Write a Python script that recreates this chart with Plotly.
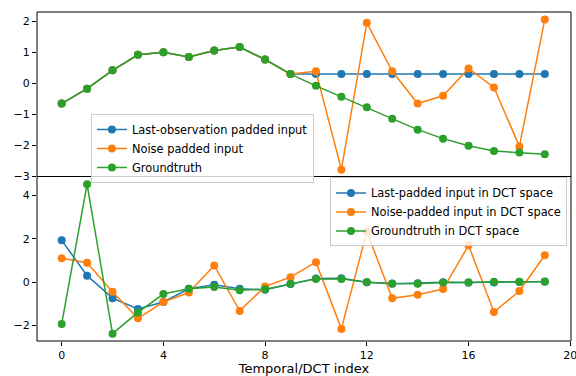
import plotly.graph_objects as go
from plotly.subplots import make_subplots

idx = list(range(20))

# Temporal domain
last_obs = [-0.65, -0.17, 0.42, 0.92, 1.00, 0.85, 1.06, 1.17, 0.77, 0.30,
            0.30, 0.30, 0.30, 0.30, 0.30, 0.30, 0.30, 0.30, 0.30, 0.30]
noise_pad = [-0.65, -0.17, 0.42, 0.92, 1.00, 0.85, 1.06, 1.17, 0.77, 0.30,
             0.39, -2.78, 1.95, 0.39, -0.65, -0.40, 0.48, -0.13, -2.03, 2.06]
ground = [-0.65, -0.17, 0.42, 0.92, 1.00, 0.85, 1.06, 1.17, 0.77, 0.30,
          -0.08, -0.43, -0.77, -1.14, -1.49, -1.78, -2.01, -2.18, -2.23, -2.28]

# DCT domain
last_dct = [1.93, 0.30, -0.74, -1.24, -0.92, -0.31, -0.12, -0.31, -0.35, -0.09,
            0.17, 0.18, 0.00, -0.08, -0.05, 0.00, -0.02, -0.02, 0.01, 0.03]
noise_dct = [1.10, 0.90, -0.45, -1.67, -0.92, -0.48, 0.77, -1.33, -0.20, 0.23,
             0.92, -2.16, 2.34, -0.75, -0.58, -0.32, 1.70, -1.38, -0.41, 1.24]
ground_dct = [-1.93, 4.52, -2.38, -1.40, -0.55, -0.31, -0.23, -0.37, -0.33, -0.08,
              0.15, 0.15, 0.00, -0.06, -0.08, -0.02, -0.02, 0.02, 0.02, 0.02]

x_ticks = [0, 4, 8, 12, 16, 20]

BLUE, ORANGE, GREEN = "#1f77b4", "#ff7f0e", "#2ca02c"
FONT = "DejaVu Sans"

fig = make_subplots(rows=2, cols=1, shared_xaxes=True, vertical_spacing=0)

def add(y, name, color, row, legend):
    fig.add_trace(go.Scatter(x=idx, y=y, name=name, mode="lines+markers",
                             line=dict(color=color, width=1.5),
                             marker=dict(color=color, size=8),
                             legend=legend, cliponaxis=True), row=row, col=1)

add(last_obs, "Last-observation padded input", BLUE, 1, "legend")
add(noise_pad, "Noise padded input", ORANGE, 1, "legend")
add(ground, "Groundtruth", GREEN, 1, "legend")
add(last_dct, "Last-padded input in DCT space", BLUE, 2, "legend2")
add(noise_dct, "Noise-padded input in DCT space", ORANGE, 2, "legend2")
add(ground_dct, "Groundtruth in DCT space", GREEN, 2, "legend2")

axis_common = dict(showline=False, automargin=False,
                   ticks="outside", ticklen=4, tickcolor="black",
                   showgrid=False, zeroline=False, ticklabeloverflow="allow",
                   tickfont=dict(family=FONT, size=11, color="black"))

fig.update_xaxes(range=[-0.97, 20.03], tickvals=x_ticks, **axis_common)
fig.update_xaxes(showticklabels=False, ticks="", row=1, col=1)
fig.update_xaxes(title=dict(text="Temporal/DCT index", standoff=2,
                            font=dict(family=FONT, size=13, color="black")),
                 row=2, col=1)
fig.update_yaxes(range=[-3.0, 2.3], tickvals=[-3, -2, -1, 0, 1, 2], row=1, col=1, **axis_common)
fig.update_yaxes(range=[-2.72, 4.88], tickvals=[-2, 0, 2, 4], row=2, col=1, **axis_common)

# axes frames
for xr, yr in (("x", "y"), ("x2", "y2")):
    fig.add_shape(type="rect", xref=f"{xr} domain", yref=f"{yr} domain",
                  x0=0, x1=1, y0=0, y1=1, line=dict(color="black", width=1),
                  fillcolor="rgba(0,0,0,0)", layer="above")

leg_common = dict(bgcolor="rgba(255,255,255,0.8)", bordercolor="#cccccc", borderwidth=1,
                  font=dict(family=FONT, size=11.4, color="black"),
                  tracegroupgap=0, itemwidth=30)
fig.update_layout(
    width=576, height=376,
    margin=dict(l=37, r=5, t=12, b=35),
    plot_bgcolor="white", paper_bgcolor="white",
    font=dict(family=FONT, size=11, color="black"),
    legend=dict(x=0.101, y=0.69, xanchor="left", yanchor="top", **leg_common),
    legend2=dict(x=0.9925, y=0.497, xanchor="right", yanchor="top", **leg_common),
    showlegend=True,
)

fig.write_html("out.html", config={"displayModeBar": False},
               post_script="document.body.style.margin='0';document.body.style.overflow='hidden';")
